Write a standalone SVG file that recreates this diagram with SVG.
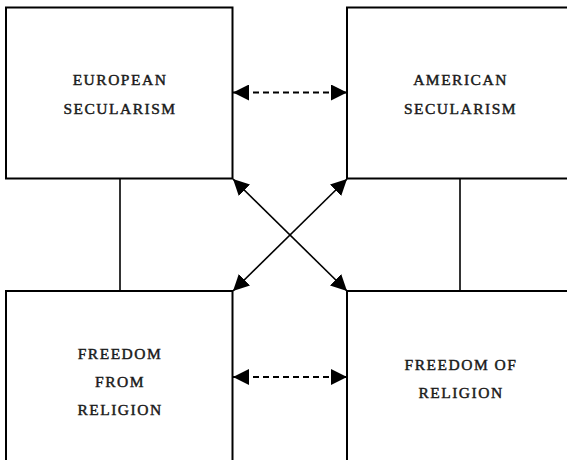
<svg xmlns="http://www.w3.org/2000/svg" width="567" height="460" viewBox="0 0 567 460">
  <defs>
    <style>
      .box { fill: #ffffff; stroke: #000000; stroke-width: 2; }
      .link { stroke: #000000; stroke-width: 1.6; fill: none; }
      .dash { stroke: #000000; stroke-width: 2; stroke-dasharray: 6 4; fill: none; }
      .label { font-family: "Liberation Serif", "Times New Roman", serif; font-size: 15.5px; letter-spacing: 1.5px; fill: #1a1a1a; stroke: #1a1a1a; stroke-width: 0.45px; text-anchor: middle; }
    </style>
    <marker id="head" viewBox="0 0 16 16" refX="16" refY="8" markerWidth="16" markerHeight="16" markerUnits="userSpaceOnUse" orient="auto-start-reverse">
      <path d="M0,0 L16,8 L0,16 Z" fill="#000000"/>
    </marker>
  </defs>

  <rect width="567" height="460" fill="#ffffff"/>

  <!-- connectors -->
  <g id="connectors">
    <line class="link" x1="120" y1="178" x2="120" y2="291"/>
    <line class="link" x1="460" y1="178" x2="460" y2="291"/>
    <line class="dash" x1="233" y1="92.5" x2="347" y2="92.5" marker-start="url(#head)" marker-end="url(#head)"/>
    <line class="dash" x1="233" y1="377" x2="347" y2="377" marker-start="url(#head)" marker-end="url(#head)"/>
    <line class="link" x1="233" y1="179" x2="347" y2="291" marker-start="url(#head)" marker-end="url(#head)"/>
    <line class="link" x1="347" y1="179" x2="233" y2="291" marker-start="url(#head)" marker-end="url(#head)"/>
  </g>

  <!-- nodes -->
  <g id="european-secularism">
    <rect class="box" x="6" y="7.5" width="226.5" height="171"/>
    <text class="label" x="120" y="85">EUROPEAN</text>
    <text class="label" x="120" y="114">SECULARISM</text>
  </g>

  <g id="american-secularism">
    <rect class="box" x="347" y="7.5" width="227" height="171"/>
    <text class="label" x="460.5" y="85">AMERICAN</text>
    <text class="label" x="460.5" y="114">SECULARISM</text>
  </g>

  <g id="freedom-from-religion">
    <rect class="box" x="6" y="291" width="226.5" height="180"/>
    <text class="label" x="120" y="358.5">FREEDOM</text>
    <text class="label" x="120" y="386.5">FROM</text>
    <text class="label" x="120" y="415">RELIGION</text>
  </g>

  <g id="freedom-of-religion">
    <rect class="box" x="347" y="291" width="227" height="180"/>
    <text class="label" x="461" y="369.5">FREEDOM OF</text>
    <text class="label" x="461" y="397.5">RELIGION</text>
  </g>
</svg>
